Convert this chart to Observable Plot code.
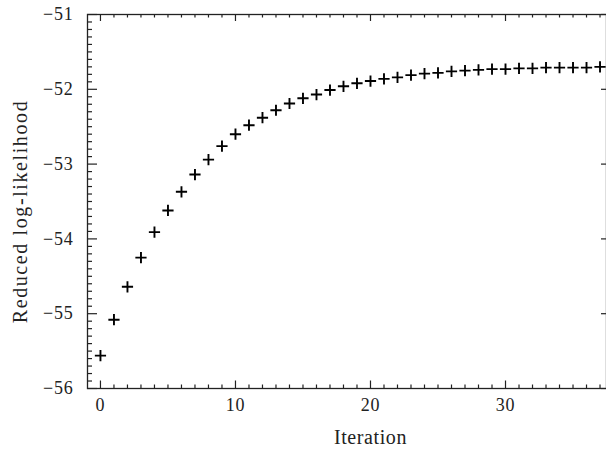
<!DOCTYPE html>
<html>
<head>
<meta charset="utf-8">
<script src="https://cdn.jsdelivr.net/npm/d3@7"></script>
<script src="https://cdn.jsdelivr.net/npm/@observablehq/plot@0.6"></script>
<style>
  html, body { margin: 0; padding: 0; background: #fff; }
  #chart { width: 606px; height: 450px; }
  #chart svg text { font-family: "Liberation Serif", "Times New Roman", serif; }
</style>
</head>
<body>
<div id="chart"></div>
<script>
// ---- data ----
const iteration = [0,1,2,3,4,5,6,7,8,9,10,11,12,13,14,15,16,17,18,19,20,21,22,23,24,25,26,27,28,29,30,31,32,33,34,35,36,37];
const logLikelihood = [-55.56,-55.08,-54.64,-54.25,-53.91,-53.62,-53.37,-53.14,-52.94,-52.76,
  -52.60,-52.48,-52.38,-52.28,-52.19,-52.12,-52.07,-52.01,-51.96,-51.92,
  -51.89,-51.86,-51.84,-51.81,-51.79,-51.78,-51.76,-51.75,-51.74,-51.73,
  -51.73,-51.72,-51.72,-51.71,-51.71,-51.71,-51.71,-51.70];
const xTickLabels = [0, 10, 20, 30];
const yTickLabels = [-56, -55, -54, -53, -52, -51];
const xLabel = "Iteration";
const yLabel = "Reduced log-likelihood";

const points = iteration.map((x, i) => ({x, y: logLikelihood[i]}));
const xMinor = d3.range(0, 38, 1).filter(v => !xTickLabels.includes(v));
const yMinor = d3.range(-56, -51.001, 0.1).map(v => +v.toFixed(1)).filter(v => !yTickLabels.includes(v));

const W = 606, H = 450, mL = 87, mT = 14, mB = 62, mR = 0;
const pW = W - mL - mR, pH = H - mT - mB;
const ink = "#222";
const tw = 1.2;

const chart = Plot.plot({
  width: W, height: H,
  marginLeft: mL, marginTop: mT, marginBottom: mB, marginRight: mR,
  style: {fontFamily: "Liberation Serif, Times New Roman, serif", fontSize: "18px", color: "#222", background: "#fff", overflow: "visible"},
  x: {domain: [-0.96, 37.48]},
  y: {domain: [-56, -51]},
  marks: [
    // bottom ticks
    Plot.tickX(xMinor, {x: d => d, insetTop: pH - 3.5, stroke: ink, strokeWidth: tw}),
    Plot.tickX(xTickLabels, {x: d => d, insetTop: pH - 7.5, stroke: ink, strokeWidth: tw}),
    // top ticks
    Plot.tickX(xMinor, {x: d => d, insetBottom: pH - 3.5, stroke: ink, strokeWidth: tw}),
    Plot.tickX(xTickLabels, {x: d => d, insetBottom: pH - 7, stroke: ink, strokeWidth: tw}),
    // left ticks
    Plot.tickY(yMinor, {y: d => d, insetRight: pW - 5, stroke: ink, strokeWidth: tw}),
    Plot.tickY(yTickLabels, {y: d => d, insetRight: pW - 10, stroke: ink, strokeWidth: tw}),
    // right ticks
    Plot.tickY(yTickLabels, {y: d => d, insetLeft: pW - 5, stroke: ink, strokeWidth: tw}),
    Plot.frame({stroke: ink, strokeWidth: 1.3}),
    Plot.axisX({ticks: xTickLabels, tickSize: 0, tickPadding: 10, label: null, fontSize: 18, tickFormat: d => `${d}`}),
    Plot.axisY({ticks: yTickLabels, tickSize: 0, tickPadding: 14, label: null, fontSize: 18, tickFormat: d => `\u2212${Math.abs(d)}`}),
    Plot.text([xLabel], {frameAnchor: "bottom", textAnchor: "middle", dx: 23.5, dy: 49, fontSize: 20, lineAnchor: "middle", fill: ink}),
    Plot.text([yLabel], {frameAnchor: "left", textAnchor: "middle", rotate: -90, dx: -67, dy: 10, fontSize: 20, lineAnchor: "middle", fill: ink}),
    Plot.dot(points, {x: "x", y: "y", symbol: "plus", r: 3.7, stroke: "black", strokeWidth: 1.9})
  ]
});

// slight letter spacing to match the wider reference typeface
chart.querySelectorAll("text").forEach(t => {
  const s = t.textContent;
  if (s === xLabel) t.setAttribute("letter-spacing", "0.6");
  else if (s === yLabel) t.setAttribute("letter-spacing", "1.6");
  else t.setAttribute("letter-spacing", "0.8");
});

document.getElementById("chart").appendChild(chart);
</script>
</body>
</html>
